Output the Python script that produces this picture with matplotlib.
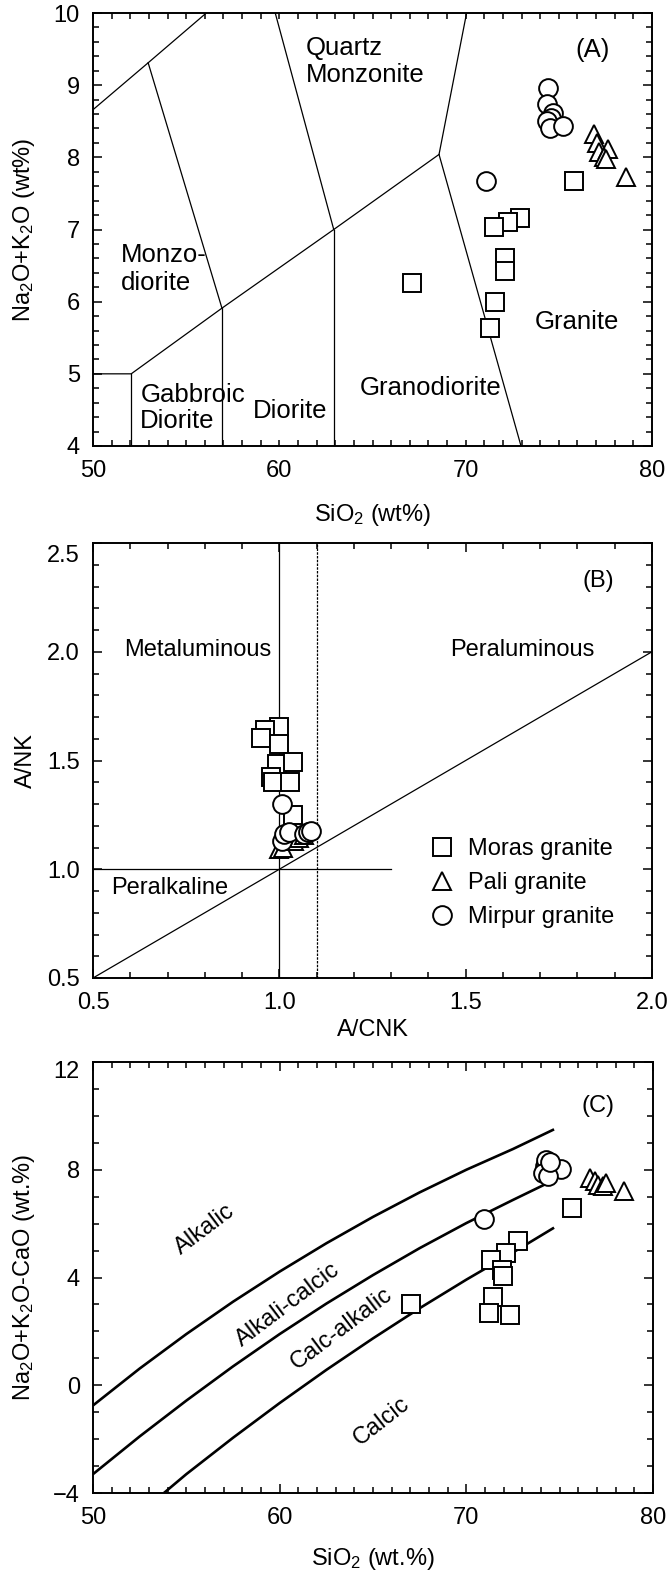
import matplotlib
matplotlib.use("Agg")
import matplotlib.pyplot as plt
from matplotlib.ticker import MultipleLocator
from matplotlib.lines import Line2D
from matplotlib.transforms import ScaledTranslation

plt.rcParams['font.family'] = ['Liberation Sans', 'DejaVu Sans']
plt.rcParams['mathtext.fontset'] = 'custom'
plt.rcParams['mathtext.rm'] = 'Liberation Sans'
plt.rcParams['mathtext.it'] = 'Liberation Sans:italic'
plt.rcParams['mathtext.bf'] = 'Liberation Sans:bold'

# ---------------- Panel A data (TAS plutonic) ----------------
a_moras_x = [75.8, 72.9, 72.27, 71.5, 72.1, 72.1, 67.1, 71.58, 71.3]
a_moras_y = [7.67, 7.16, 7.11, 7.03, 6.61, 6.42, 6.26, 6.0, 5.64]
a_pali_x = [76.9, 77.05, 77.15, 77.65, 77.4, 77.55, 78.6]
a_pali_y = [8.32, 8.2, 8.08, 8.12, 8.0, 7.97, 7.73]
a_mirpur_x = [71.1, 74.43, 74.35, 74.7, 74.6, 74.35, 74.5, 75.24]
a_mirpur_y = [7.67, 8.96, 8.74, 8.62, 8.55, 8.50, 8.40, 8.43]

a_boundaries = [
    [(50, 8.66), (52.96, 9.31), (56.08, 10)],
    [(52.96, 9.31), (56.92, 5.91)],
    [(59.78, 10), (62.92, 7.0)],
    [(70.05, 10), (68.57, 8.04), (72.97, 4)],
    [(50, 5.0), (52.05, 5.0), (56.92, 5.91), (62.92, 7.0), (68.57, 8.04)],
    [(52.05, 5.0), (52.05, 4)],
    [(56.92, 5.91), (56.92, 4)],
    [(62.92, 7.0), (62.92, 4)],
]
a_labels = [
    ("Quartz", 61.43, 9.51, 'left'),
    ("Monzonite", 61.43, 9.14, 'left'),
    ("Monzo-", 51.48, 6.65, 'left'),
    ("diorite", 51.48, 6.26, 'left'),
    ("Gabbroic", 52.54, 4.71, 'left'),
    ("Diorite", 52.54, 4.34, 'left'),
    ("Diorite", 60.57, 4.48, 'center'),
    ("Granodiorite", 68.1, 4.8, 'center'),
    ("Granite", 75.98, 5.72, 'center'),
    ("(A)", 76.83, 9.49, 'center'),
]

# ---------------- Panel B data (A/NK vs A/CNK) ----------------
b_moras_x = [1.0, 0.961, 0.95, 1.0, 0.993, 1.036, 0.977, 0.984, 1.028, 1.037]
b_moras_y = [1.655, 1.64, 1.602, 1.574, 1.484, 1.493, 1.423, 1.403, 1.401, 1.25]
b_pali_x = [1.0, 1.01, 1.04, 1.053, 1.065]
b_pali_y = [1.095, 1.10, 1.13, 1.145, 1.158]
b_mirpur_x = [1.006, 1.007, 1.013, 1.025, 1.067, 1.076, 1.085]
b_mirpur_y = [1.30, 1.128, 1.16, 1.17, 1.16, 1.169, 1.175]

b_labels = [
    ("Metaluminous", 0.78, 2.01),
    ("Peraluminous", 1.652, 2.01),
    ("Peralkaline", 0.707, 0.914),
    ("(B)", 1.857, 2.327),
]

# ---------------- Panel C data (MALI) ----------------
c_moras_x = [75.68, 72.77, 72.1, 71.34, 71.93, 71.96, 67.05, 71.45, 71.2, 72.35]
c_moras_y = [6.58, 5.34, 4.91, 4.66, 4.29, 4.04, 3.01, 3.29, 2.68, 2.6]
c_pali_x = [76.6, 76.87, 77.05, 77.32, 77.5, 78.43]
c_pali_y = [7.69, 7.57, 7.44, 7.38, 7.5, 7.2]
c_mirpur_x = [70.93, 74.19, 74.55, 75.09, 74.28, 74.1, 74.4, 74.5]
c_mirpur_y = [6.17, 8.15, 8.0, 8.03, 8.37, 7.88, 7.75, 8.3]

c_curve1_x = [50, 52.5, 55, 57.5, 60, 62.5, 65, 67.5, 70, 72.5, 74.7]
c_curve1_y = [-0.75, 0.62, 1.9, 3.1, 4.22, 5.27, 6.25, 7.16, 8.0, 8.77, 9.5]
c_curve2_x = [50, 52.5, 55, 57.5, 60, 62.5, 65, 67.5, 70, 72.5, 74.7]
c_curve2_y = [-3.3, -1.9, -0.57, 0.7, 1.9, 3.03, 4.09, 5.09, 6.02, 6.88, 7.62]
c_curve3_x = [53.8, 55, 57.5, 60, 62.5, 65, 67.5, 70, 72.5, 74.7]
c_curve3_y = [-4.0, -3.3, -1.95, -0.66, 0.57, 1.74, 2.86, 3.92, 4.93, 5.85]

c_labels = [
    ("Alkalic", 55.97, 5.79, 37),
    ("Alkali-calcic", 60.45, 2.98, 37),
    ("Calc-alkalic", 63.33, 2.1, 37),
    ("Calcic", 65.46, -1.34, 38),
]

series_names = ["Moras granite", "Pali granite", "Mirpur granite"]
series_markers = ['s', '^', 'o']

FS = 17
MS = 13.5
MEW = 1.4

fig = plt.figure(figsize=(6.71, 15.72), dpi=100)
W, H = 671.0, 1572.0
axA = fig.add_axes([93 / W, 1 - 446 / H, 559 / W, 433 / H])
axB = fig.add_axes([93 / W, 1 - 978 / H, 559 / W, 435 / H])
axC = fig.add_axes([93 / W, 1 - 1493 / H, 560 / W, 431 / H])


def style_axes(ax, xmaj, xmin, ymaj, ymin, xmajlen=6.5):
    ax.xaxis.set_major_locator(MultipleLocator(xmaj))
    ax.xaxis.set_minor_locator(MultipleLocator(xmin))
    ax.yaxis.set_major_locator(MultipleLocator(ymaj))
    ax.yaxis.set_minor_locator(MultipleLocator(ymin))
    ax.tick_params(which='both', direction='in', top=True, right=True,
                   width=1.1, labelsize=FS)
    ax.tick_params(axis='x', which='both', pad=10)
    ax.tick_params(axis='y', which='both', pad=9.5)
    ax.tick_params(axis='y', which='major', length=6.5)
    ax.tick_params(axis='x', which='major', length=xmajlen)
    ax.tick_params(which='minor', length=4.5)
    for s in ax.spines.values():
        s.set_linewidth(1.4)


def plot_series(ax, xs, ys):
    for x, y, m in zip(xs, ys, series_markers):
        ax.plot(x, y, linestyle='none', marker=m, ms=MS, mfc='white',
                mec='black', mew=MEW, zorder=3, clip_on=False)


# ---------- Panel A ----------
for seg in a_boundaries:
    axA.plot([p[0] for p in seg], [p[1] for p in seg], color='black', lw=0.9, zorder=1)
plot_series(axA, [a_moras_x, a_pali_x, a_mirpur_x], [a_moras_y, a_pali_y, a_mirpur_y])
for t, x, y, ha in a_labels:
    axA.text(x, y, t, ha=ha, va='center', fontsize=18.5, zorder=2)
axA.set_xlim(50, 80)
axA.set_ylim(4, 10)
style_axes(axA, 10, 1, 1, 0.2, xmajlen=4.5)
axA.set_xlabel("SiO$_2$ (wt%)", fontsize=FS)
axA.set_ylabel("Na$_2$O+K$_2$O (wt%)", fontsize=FS)
axA.xaxis.set_label_coords(0.5, -0.13)
axA.yaxis.set_label_coords(-0.1, 0.5)

# ---------- Panel B ----------
axB.plot([1.0, 1.0], [0.5, 2.5], color='black', lw=0.9, zorder=1)
axB.plot([1.1, 1.1], [0.5, 2.5], color='black', lw=0.9, ls=(0, (2, 1)), zorder=1)
axB.plot([0.5, 1.3], [1.0, 1.0], color='black', lw=0.9, zorder=1)
axB.plot([0.5, 2.0], [0.5, 2.0], color='black', lw=0.9, zorder=1)
plot_series(axB, [b_moras_x, b_pali_x, b_mirpur_x], [b_moras_y, b_pali_y, b_mirpur_y])
for t, x, y in b_labels:
    axB.text(x, y, t, ha='center', va='center', fontsize=FS, zorder=2)
axB.set_xlim(0.5, 2.0)
axB.set_ylim(0.5, 2.5)
style_axes(axB, 0.5, 0.1, 0.5, 0.1)
axB.set_xlabel("A/CNK", fontsize=FS)
axB.set_ylabel("A/NK", fontsize=FS)
axB.xaxis.set_label_coords(0.5, -0.094)
axB.yaxis.set_label_coords(-0.1, 0.5)
handles = [Line2D([], [], linestyle='none', marker=m, ms=MS, mfc='white',
                  mec='black', mew=MEW) for m in series_markers]
axB.legend(handles, series_names, loc='upper left', bbox_to_anchor=(0.604, 0.322),
           frameon=False, borderpad=0, handlelength=1.0, handletextpad=0.58,
           labelspacing=0.52, fontsize=FS, borderaxespad=0)

# ---------- Panel C ----------
for cx, cy in [(c_curve1_x, c_curve1_y), (c_curve2_x, c_curve2_y), (c_curve3_x, c_curve3_y)]:
    axC.plot(cx, cy, color='black', lw=1.9, zorder=1, solid_capstyle='butt')
plot_series(axC, [c_moras_x, c_pali_x, c_mirpur_x], [c_moras_y, c_pali_y, c_mirpur_y])
for t, x, y, r in c_labels:
    axC.text(x, y, t, ha='center', va='center', rotation=r, fontsize=FS,
             rotation_mode='anchor', zorder=2)
axC.text(77.05, 10.35, "(C)", ha='center', va='center', fontsize=FS)
axC.set_xlim(50, 80)
axC.set_ylim(-4, 12)
style_axes(axC, 10, 1, 4, 1)
axC.set_xlabel("SiO$_2$ (wt.%)", fontsize=FS)
axC.set_ylabel("Na$_2$O+K$_2$O-CaO (wt.%)", fontsize=FS)
axC.xaxis.set_label_coords(0.5, -0.123)
axC.yaxis.set_label_coords(-0.1, 0.5)

# top y tick labels of panels B and C sit slightly below the frame
fig.canvas.draw()
for ax, top_text, shift_px in [(axB, "2.5", 10), (axC, "12", 7)]:
    for tick in ax.yaxis.get_major_ticks():
        if tick.label1.get_text() == top_text:
            tick.label1.set_transform(tick.label1.get_transform() +
                                      ScaledTranslation(0, -shift_px / 100, fig.dpi_scale_trans))

fig.savefig("out.png", dpi=100)
